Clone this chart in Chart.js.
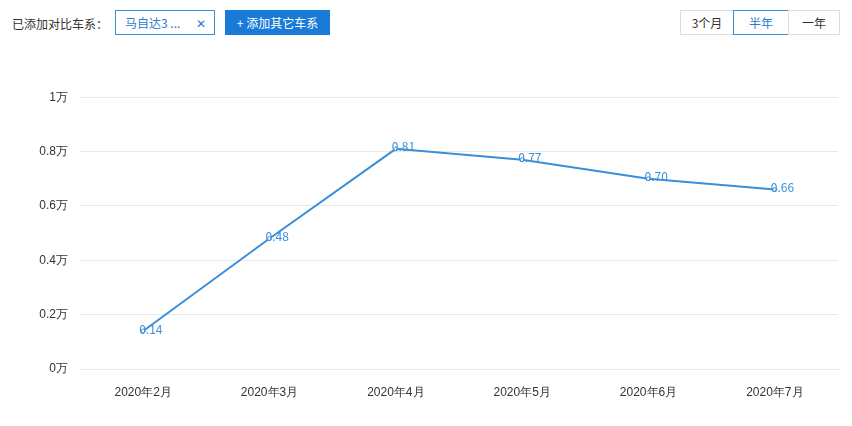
<!DOCTYPE html>
<html><head><meta charset="utf-8">
<script src="https://cdn.jsdelivr.net/npm/chart.js@4/dist/chart.umd.min.js"></script>
<style>
body{margin:0;width:852px;height:426px;background:#fff;font-family:"Microsoft YaHei","Noto Sans CJK SC",sans-serif;position:relative;overflow:hidden}
.t{position:absolute;font-size:12px;color:#333}
.box{position:absolute;box-sizing:border-box;font-size:12px;display:flex;align-items:center}
#wrap{position:absolute;left:0;top:78px;width:852px;height:348px}
</style></head><body>
<div class="t" style="left:12px;top:15px">已添加对比车系：</div>
<div class="box" style="left:115px;top:10px;width:100px;height:25px;border:1px solid #3b8fd6;color:#2a7bd0;padding-left:9px">马自达3 ...<span style="position:absolute;right:8px">✕</span></div>
<div class="box" style="left:225px;top:10px;width:105px;height:25px;background:#1a7ad8;color:#fff;justify-content:center">+ 添加其它车系</div>
<div class="box" style="left:680px;top:10px;width:54px;height:25px;border:1px solid #ddd;color:#333;justify-content:center">3个月</div>
<div class="box" style="left:733px;top:10px;width:56px;height:25px;border:1px solid #3b8fd6;color:#2a7bd0;justify-content:center">半年</div>
<div class="box" style="left:788px;top:10px;width:52px;height:25px;border:1px solid #ddd;color:#333;justify-content:center">一年</div>
<div id="wrap"><canvas id="c"></canvas></div>
<script>
const categories=["2020年2月","2020年3月","2020年4月","2020年5月","2020年6月","2020年7月"];
const sales=[0.14,0.48,0.81,0.77,0.70,0.66];
const yTicks=[0,0.2,0.4,0.6,0.8,1];
const labelPlugin={id:'lbl',afterDatasetsDraw(ch){const c=ch.ctx;const m=ch.getDatasetMeta(0);c.save();c.fillStyle='#3a8fd9';c.font='12px "Microsoft YaHei","Noto Sans CJK SC",sans-serif';c.textAlign='left';c.textBaseline='bottom';m.data.forEach((p,i)=>{c.fillText(sales[i].toFixed(2),p.x-4,p.y+4);});c.restore();}};
new Chart(document.getElementById('c'),{type:'line',data:{labels:categories,datasets:[{data:sales,borderColor:'#3a8fd9',borderWidth:2,pointRadius:2,pointBackgroundColor:'#fff',pointBorderColor:'#3a8fd9',pointBorderWidth:1,tension:0}]},
options:{responsive:true,maintainAspectRatio:false,animation:false,layout:{padding:{top:18,right:14,left:0,bottom:0}},
plugins:{legend:{display:false},tooltip:{enabled:false}},
scales:{x:{offset:true,grid:{display:false},border:{color:'#e8e8e8'},ticks:{color:'#333',font:{size:12},padding:8,maxRotation:0},afterFit(s){s.height=57;}},
y:{min:0,max:1,afterBuildTicks(s){s.ticks=yTicks.map(v=>({value:v}));},grid:{color:'#e8e8e8',drawTicks:false},border:{display:false},ticks:{color:'#333',font:{size:12},padding:12,callback:v=>v+'万'},afterFit(s){s.width=80;}}}},
plugins:[labelPlugin]});
</script></body></html>
